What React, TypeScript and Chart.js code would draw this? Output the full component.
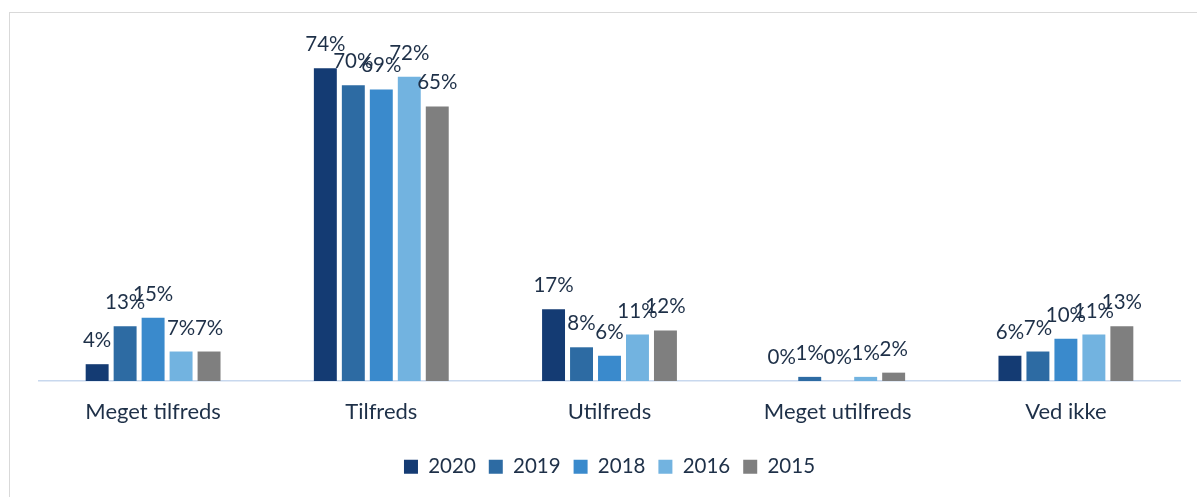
import React, { useEffect, useRef } from "react";
import { Chart, registerables } from "chart.js";

Chart.register(...registerables);

const categories = ["Meget tilfreds", "Tilfreds", "Utilfreds", "Meget utilfreds", "Ved ikke"];
const seriesNames = ["2020", "2019", "2018", "2016", "2015"];
const values2020 = [4, 74, 17, 0, 6];
const values2019 = [13, 70, 8, 1, 7];
const values2018 = [15, 69, 6, 0, 10];
const values2016 = [7, 72, 11, 1, 11];
const values2015 = [7, 65, 12, 2, 13];
const seriesColors = ["#143B73", "#2D6BA3", "#3A8ACC", "#72B3E0", "#7F7F7F"];

const TEXT = "#1E3048";
const FONT = "Lato, 'Open Sans', sans-serif";

const labelPlugin = {
  id: "barLabels",
  afterDatasetsDraw(chart: any) {
    const ctx = chart.ctx;
    ctx.save();
    ctx.font = `20.5px ${FONT}`;
    ctx.fillStyle = TEXT;
    ctx.textAlign = "center";
    ctx.textBaseline = "alphabetic";
    chart.data.datasets.forEach((ds: any, i: number) => {
      const meta = chart.getDatasetMeta(i);
      meta.data.forEach((el: any, j: number) => {
        ctx.fillText(ds.data[j] + "%", el.x, el.y - 17);
      });
    });
    ctx.restore();
  },
};

export default function App() {
  const ref = useRef<HTMLCanvasElement>(null);
  useEffect(() => {
    const all = [values2020, values2019, values2018, values2016, values2015];
    const chart = new Chart(ref.current!, {
      type: "bar",
      data: {
        labels: categories,
        datasets: seriesNames.map((n, i) => ({
          label: n,
          data: all[i],
          backgroundColor: seriesColors[i],
          borderWidth: 0,
          categoryPercentage: 0.613,
          barPercentage: 0.82,
        })),
      },
      options: {
        animation: false,
        responsive: false,
        maintainAspectRatio: false,
        layout: { padding: { left: 39, right: 17, top: 43, bottom: 10 } },
        scales: {
          x: {
            grid: { display: false, drawTicks: false },
            border: { display: true, color: "#C8D8EE", width: 1.5 },
            ticks: { color: TEXT, font: { family: FONT, size: 22 }, padding: 18 },
          },
          y: { display: false, min: 0, max: 80 },
        },
        plugins: {
          legend: {
            position: "bottom",
            labels: {
              color: TEXT,
              font: { family: FONT, size: 20.5 },
              boxWidth: 14,
              boxHeight: 14,
              padding: 13,
            },
          },
          tooltip: { enabled: false },
        },
      },
      plugins: [labelPlugin],
    });
    return () => chart.destroy();
  }, []);
  return (
    <div style={{ position: "absolute", left: 0, top: 0, width: 1197, height: 497, background: "#fff" }}>
      <div
        style={{
          position: "absolute",
          left: 9,
          top: 12,
          width: 1190,
          height: 490,
          borderTop: "1px solid #D9D9D9",
          borderLeft: "1px solid #D9D9D9",
        }}
      />
      <canvas ref={ref} width={1197} height={497} style={{ position: "absolute", left: 0, top: 0 }} />
    </div>
  );
}
